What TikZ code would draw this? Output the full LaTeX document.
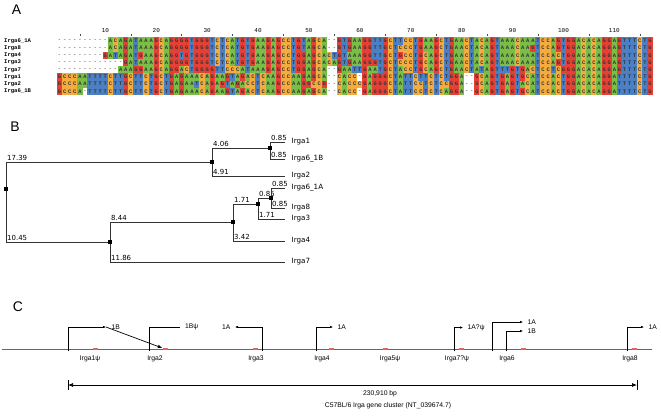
\documentclass[tikz,border=0pt]{standalone}
\usepackage{fontspec}
\setmainfont{Liberation Sans}
\newfontfamily\treefont{DejaVu Sans}
\newfontfamily\seqfont{Liberation Mono}
\usetikzlibrary{arrows.meta,positioning}

\definecolor{baseA}{RGB}{122,190,72}
\definecolor{baseC}{RGB}{245,172,62}
\definecolor{baseG}{RGB}{228,64,54}
\definecolor{baseT}{RGB}{76,128,196}
\definecolor{exonred}{RGB}{232,96,96}

% one alignment row: row number, label, bases
\makeatletter
\newcounter{basecol}
\newcommand\seqrow[3]{%
  \pgfmathsetmacro\sr@y{41+(#1-1)*7.2}%
  \def\sr@row{#1}%
  \node[seqname] (name#1) at (4,\sr@y) {#2};
  \setcounter{basecol}{0}%
  \sr@next#3\relax}
\def\sr@next#1{%
  \ifx#1\relax\else
    \stepcounter{basecol}\sr@cell#1%
    \expandafter\sr@next
  \fi}
\def\sr@cell#1{%
  \if#1-\node[gapcell] (r\sr@row-\thebasecol) at ({57+(\thebasecol-0.5)*5.09},\sr@y) {-};%
  \else\node[basecell,fill=base#1] (r\sr@row-\thebasecol) at ({57+(\thebasecol-0.5)*5.09},\sr@y) {#1};\fi}
\makeatother

\begin{document}
\begin{tikzpicture}[
        x=1bp, y=-1bp,
        panel/.style={inner sep=0pt,font=\fontsize{14}{14}\selectfont},
        seqname/.style={anchor=west,inner sep=0pt,font=\seqfont\bfseries\fontsize{5.6}{6}\selectfont},
        basecell/.style={
            minimum width=5.3bp,
            minimum height=7.3bp,
            inner sep=0pt,
            outer sep=0pt,
            font=\seqfont\bfseries\fontsize{5.4}{6}\selectfont,
            text=black!80
        },
        gapcell/.style={basecell,text=black!55},
        rulenum/.style={inner sep=0pt,font=\seqfont\fontsize{6}{6}\selectfont},
        ruletick/.style={line width=0.5bp,draw=black!70},
        branch/.style={line width=0.75bp,draw=black!80},
        blen/.style={pos=0.5,anchor=south west,inner sep=0.8bp,font=\treefont\fontsize{7}{7}\selectfont},
        taxon/.style={anchor=west,inner sep=0.5bp,font=\treefont\fontsize{7.2}{8}\selectfont},
        treedot/.style={rectangle,fill=black,inner sep=0pt,minimum size=3.2bp},
        chrom/.style={line width=0.9bp,draw=black!60},
        exon/.style={fill=exonred,minimum width=5bp,minimum height=2.4bp,inner sep=0pt},
        tsstick/.style={line width=0.7bp,draw=black},
        tss/.style={tsstick,-{Latex[length=3bp,width=2.6bp]}},
        splice/.style={line width=0.7bp,-{Latex[length=4.5bp,width=3.6bp]}},
        exonlbl/.style={inner sep=0.5bp,font=\fontsize{6.8}{7}\selectfont},
        genelbl/.style={inner sep=0pt,font=\fontsize{6.8}{7}\selectfont},
        scalebar/.style={line width=0.7bp,{Latex[length=5bp,width=4bp]}-{Latex[length=5bp,width=4bp]}},
        scalelbl/.style={inner sep=0pt,font=\fontsize{6.8}{7}\selectfont}
    ]
    \fill[white] (0,0) rectangle (661,415);
    \useasboundingbox (0,0) rectangle (661,415);

    % A: alignment
    \node[panel] (labA) at (16.5,10) {A};
    \foreach \c in {10,20,...,110}
        \node[rulenum] (num\c) at ({57+(\c-0.5)*5.09},31) {\c};
    \foreach \c in {5,15,...,115}
        \draw[ruletick] ({57+(\c-0.5)*5.09},33.5) -- ++(0,2.5);

    \seqrow{1}{Irga6\_1A}{----------ACAGATAAAGCAGGGGTGGGTCTCATGTGAAGAGCCTGTAGCA--GTGAAGGTTGCTTCCTGAAGCTGAACTACAGTAAACAAATCCAGTGGACACAGGAGTTTCTG}
    \seqrow{2}{Irga8}{----------ACAGATAAAGCAGGGGTGGGTCTCATGTGAAGAGCCTGTAGCA--GTGAAGGTTGCTCCCTGAAGCTGAACTACAGTAAACAAGTCCAGTGGACACAGGAGTTTCTG}
    \seqrow{3}{Irga4}{---------GATAGATGAAGCAGGTGTGGGTCTCATGTGAAGAGCCTGGAGCACTGTAAAGGTTGCTGCCTGCAGCTGAACTACAGTAAACAAATCCACTGGACACAGGAGTTTCTG}
    \seqrow{4}{Irga3}{-------------GATAAAGCAGGGGTGGGTCTCATGTGAAGAGCCTGGAGCACAGTGAAGGGTGCTCCCTGCAGCTGAACTACAGTAAACAAATCCAGTGGACACAGGAGTTTCTG}
    \seqrow{5}{Irga7}{------------AAAGGAAGCAGGACTGGGGTTCCCATAAAGAGCCTGGAGCA--GAATTGAATGCTACCTGCAGCTGAACTATAGTTTGTGACTCCTCGGGACACAGGAGTTTCTG}
    \seqrow{6}{Irga1}{GCCCAATTTTCTTGCTTCTGCTGAGAAACAGAAGTAGACTCAAGCCAAGAGCA--CACC-GAGGGCTATTCTTCTCTGGA--GCAGTGAGTGCATCCACTGGACACAGGATTTTCTG}
    \seqrow{7}{Irga2}{GCCCAATTTTCTTGCTTCTGCTGAGAATCAGAGTAGACCTCAAGCCAAGGCCG--CACCCGAGGGCTATTCCTCTCCGGA--GCAGTGAGTACATCCACTGGACACAGGATTTTCTG}
    \seqrow{8}{Irga6\_1B}{GCCCA-TTTTCTTGCTTCTGCTGAGAAACAGAAGTAGACTCAAGCCAAGAGCA--CACC-GAGGGCTATTCCTCTCAGGA--GCAGTGAGTGCATCCACTGGACACAGGATTTTCTG}

    % B: tree
    \node[panel] (labB) at (15,127) {B};
    \node[treedot] (root) at (6,189) {};
    \node[treedot] (n1) at (212,162) {};
    \node[treedot] (n2) at (270,148) {};
    \node[treedot] (n3) at (110,242) {};
    \node[treedot] (n4) at (233,222) {};
    \node[treedot] (n5) at (258,204) {};
    \node[treedot] (n6) at (271,198) {};
    \coordinate (l1) at (285,142);
    \coordinate (l6b) at (285,159);
    \coordinate (l2) at (285,176);
    \coordinate (l6a) at (285,188);
    \coordinate (l8) at (285,208);
    \coordinate (l3) at (285,219);
    \coordinate (l4) at (285,241);
    \coordinate (l7) at (285,262);

    \draw[branch] (root) |- node[blen] {17.39} (n1);
    \draw[branch] (root) |- node[blen] {10.45} (n3);
    \draw[branch] (n1) |- node[blen] {4.06} (n2);
    \draw[branch] (n1) |- node[blen] {4.91} (l2);
    \draw[branch] (n2) |- node[blen] {0.85} (l1);
    \draw[branch] (n2) |- node[blen] {0.85} (l6b);
    \draw[branch] (n3) |- node[blen] {8.44} (n4);
    \draw[branch] (n3) |- node[blen] {11.86} (l7);
    \draw[branch] (n4) |- node[blen] {1.71} (n5);
    \draw[branch] (n4) |- node[blen] {3.42} (l4);
    \draw[branch] (n5) |- node[blen] {0.85} (n6);
    \draw[branch] (n5) |- node[blen] {1.71} (l3);
    \draw[branch] (n6) |- node[blen] {0.85} (l6a);
    \draw[branch] (n6) |- node[blen] {0.85} (l8);

    \node[taxon, right=6bp of l1] (t1) {Irga1};
    \node[taxon, right=6bp of l6b] (t6b) {Irga6\_1B};
    \node[taxon, right=6bp of l2] (t2) {Irga2};
    \node[taxon, right=6bp of l6a] (t6a) {Irga6\_1A};
    \node[taxon, right=6bp of l8] (t8) {Irga8};
    \node[taxon, right=6bp of l3] (t3) {Irga3};
    \node[taxon, right=6bp of l4] (t4) {Irga4};
    \node[taxon, right=6bp of l7] (t7) {Irga7};

    % C: gene cluster
    \node[panel] (labC) at (18,307) {C};
    \coordinate (chrl) at (2,349);
    \coordinate (chrr) at (652,349);
    \draw[chrom] (chrl) -- (chrr);
    \foreach \x/\n in {95/1,165/2,255/3,331/4,385/5,461/7,523/6,634/8}
        \node[exon] (ex\n) at (\x,349) {};

    \coordinate (tss1) at (68,351);    \coordinate (tip1) at (106,327);
    \coordinate (tss2) at (149,351);   \coordinate (tip2) at (180,327);
    \coordinate (tss3) at (262,351);   \coordinate (tip3) at (235,327);
    \coordinate (tss4) at (316,351);   \coordinate (tip4) at (333,327);
    \coordinate (tss7) at (454,351);   \coordinate (tip7) at (463,327.5);
    \coordinate (tss6a) at (492,351);  \coordinate (tip6a) at (523,322);
    \coordinate (tss6b) at (506,351);  \coordinate (tip6b) at (523,331);
    \coordinate (tss8) at (627,351);   \coordinate (tip8) at (644,327);

    \draw[tss] (tss1) |- (tip1);
    \draw[tsstick] (tss2) |- (tip2);
    \draw[tss] (tss3) |- (tip3);
    \draw[tss] (tss4) |- (tip4);
    \draw[tss] (tss7) |- (tip7);
    \draw[tss] (tss6a) |- (tip6a);
    \draw[tss] (tss6b) |- (tip6b);
    \draw[tss] (tss8) |- (tip8);
    \draw[splice] (tip1) -- (ex2);

    \node[exonlbl, anchor=west, right=5bp of tip1] (x1) {1B};
    \node[exonlbl, anchor=west, right=4.5bp of tip2] (x2) {1Bψ};
    \node[exonlbl, anchor=east, left=4bp of tip3] (x3) {1A};
    \node[exonlbl, anchor=west, right=4bp of tip4] (x4) {1A};
    \node[exonlbl, anchor=west, right=4bp of tip7] (x7) {1A?ψ};
    \node[exonlbl, anchor=west, right=4bp of tip6a] (x6a) {1A};
    \node[exonlbl, anchor=west, right=4bp of tip6b] (x6b) {1B};
    \node[exonlbl, anchor=west, right=4bp of tip8] (x8) {1A};

    \node[genelbl] (g1) at (90,359) {Irga1ψ};
    \node[genelbl] (g2) at (155,359) {Irga2};
    \node[genelbl] (g3) at (256,359) {Irga3};
    \node[genelbl] (g4) at (322,359) {Irga4};
    \node[genelbl] (g5) at (390,359) {Irga5ψ};
    \node[genelbl] (g7) at (457,359) {Irga7?ψ};
    \node[genelbl] (g6) at (507,359) {Irga6};
    \node[genelbl] (g8) at (630,359) {Irga8};

    \coordinate (sbl) at (68,385);
    \coordinate (sbr) at (637,385);
    \draw[scalebar] (sbl) -- (sbr);
    \draw[line width=0.7bp] (sbl) ++(0,-5) -- ++(0,10);
    \draw[line width=0.7bp] (sbr) ++(0,-5) -- ++(0,10);
    \node[scalelbl] (bp) at (380,394) {230,910 bp};
    \node[scalelbl] (cluster) at (388,406) {C57BL/6 Irga gene cluster (NT\_039674.7)};
\end{tikzpicture}
\end{document}
